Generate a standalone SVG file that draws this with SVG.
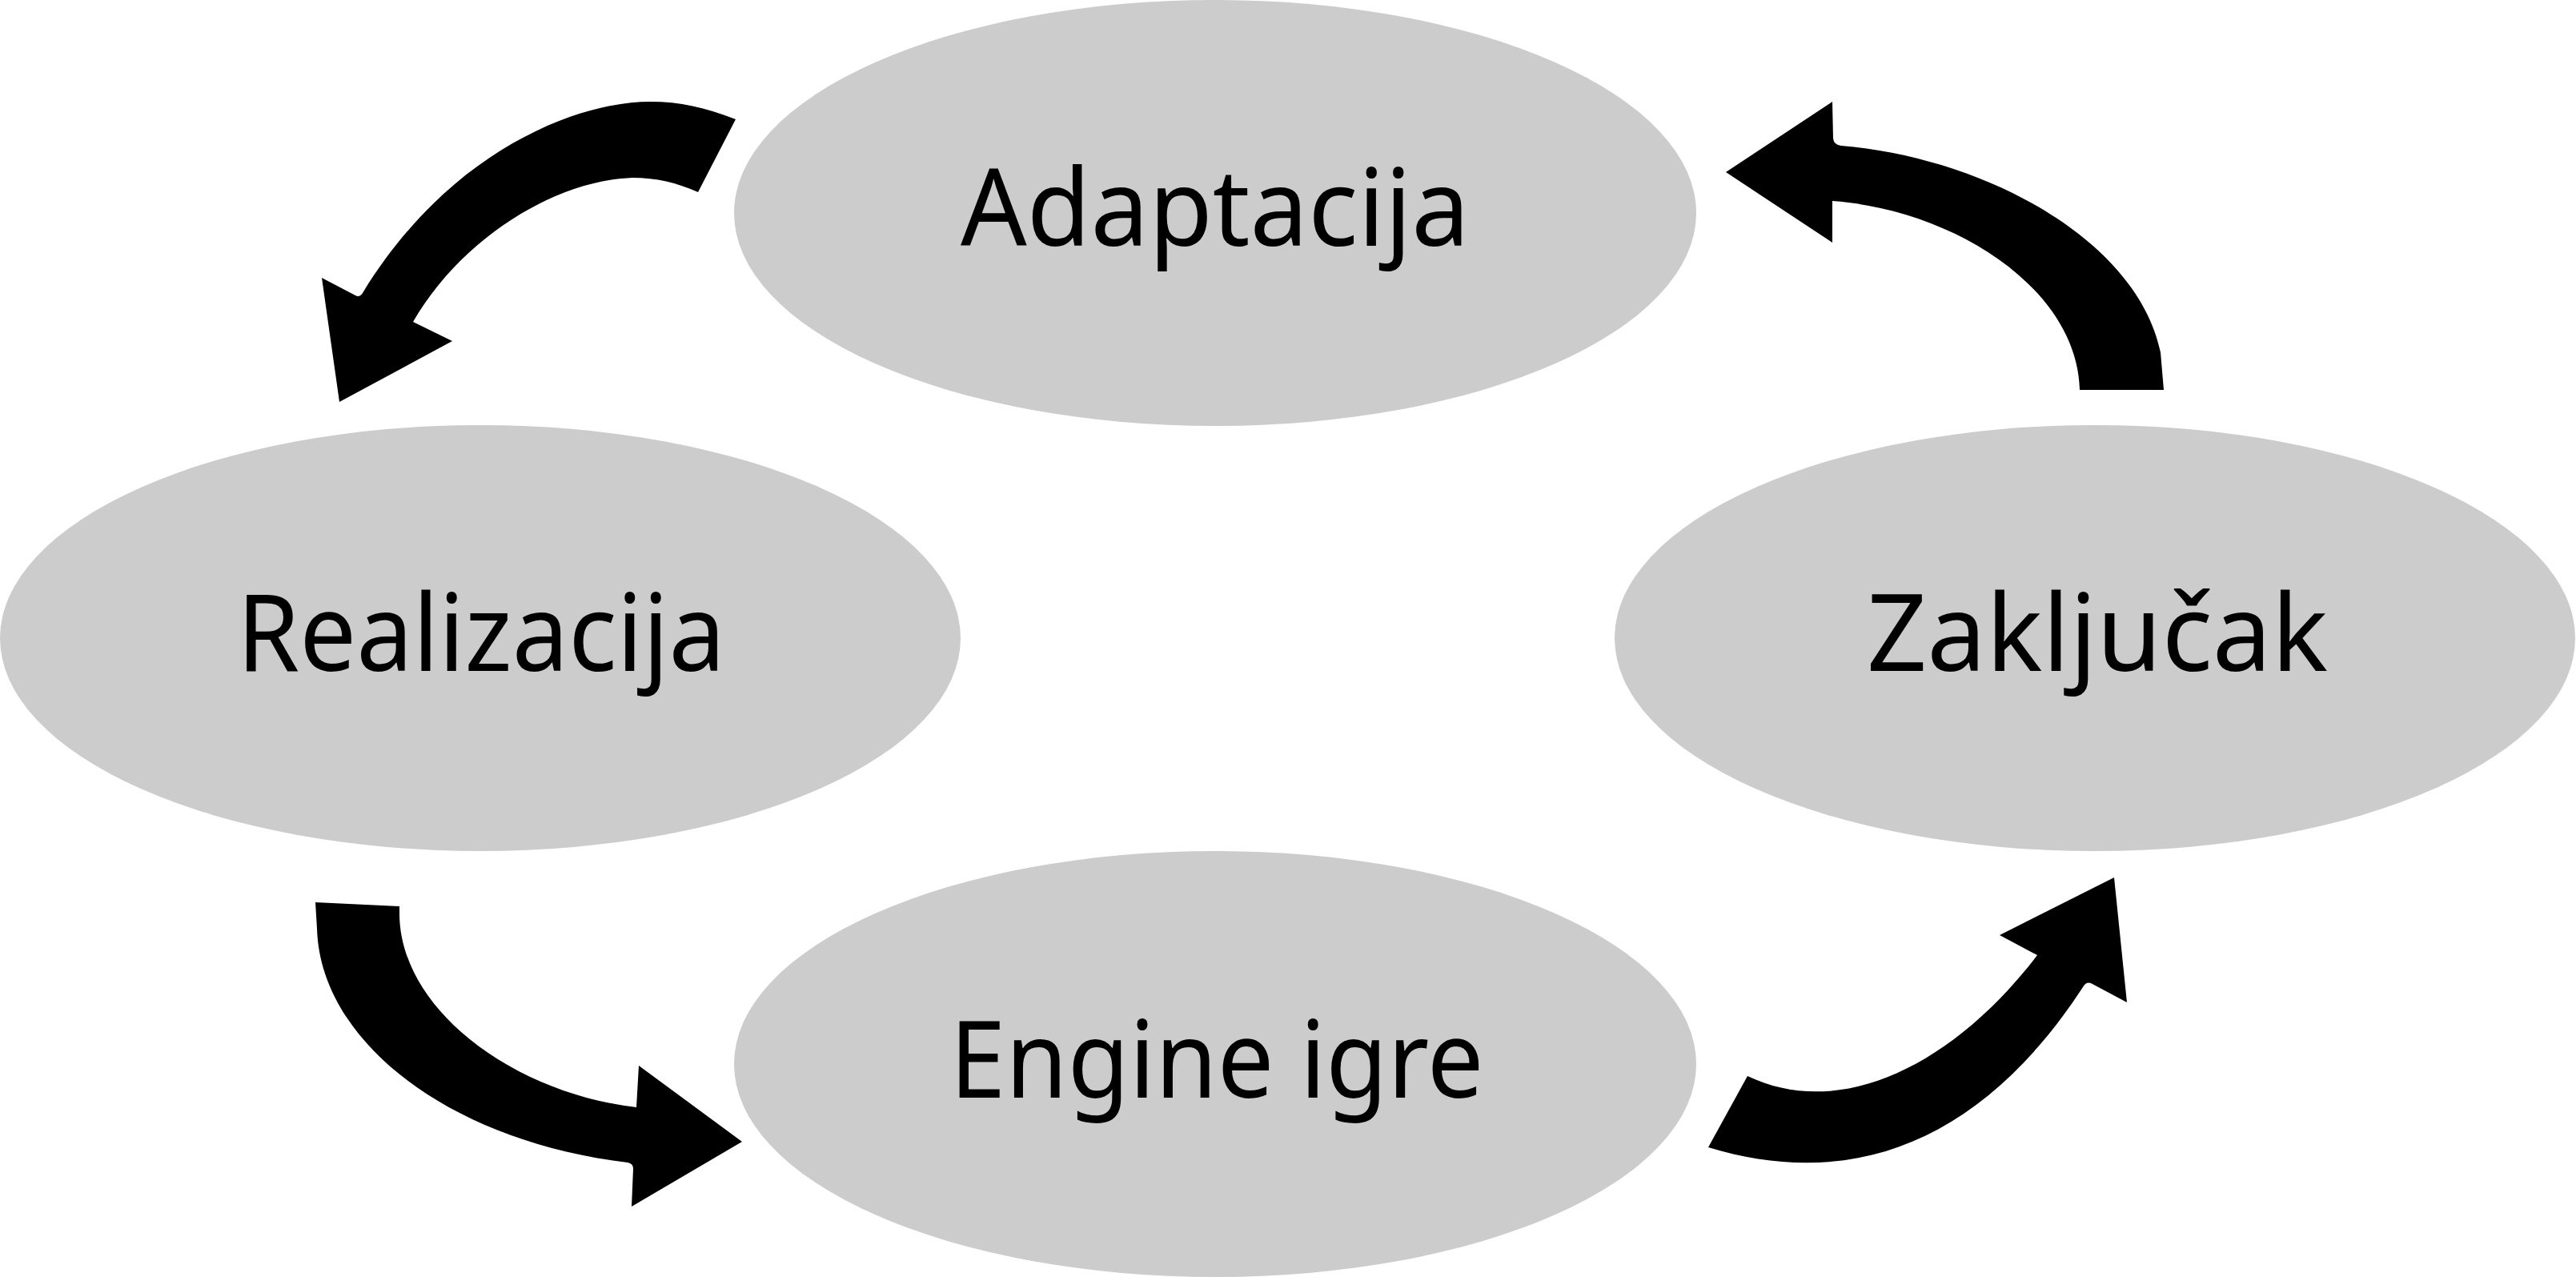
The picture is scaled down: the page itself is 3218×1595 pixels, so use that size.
<svg xmlns="http://www.w3.org/2000/svg" width="3218" height="1595" viewBox="0 0 3218 1595">
<style>
.node ellipse{fill:#cccccc;}
.node text{font-family:"Noto Sans","Open Sans","Liberation Sans",sans-serif;font-size:134px;fill:#000000;text-anchor:middle;}
.arrow{fill:#000000;stroke:none;}
</style>
<rect width="3218" height="1595" fill="#ffffff"/>
<g id="node-adaptacija" class="node">
<ellipse cx="1518" cy="266" rx="601" ry="266"/>
<text x="1518" y="307" textLength="636" lengthAdjust="spacingAndGlyphs">Adaptacija</text>
</g>
<g id="node-realizacija" class="node">
<ellipse cx="600" cy="797" rx="600" ry="266"/>
<text x="601" y="838" textLength="610" lengthAdjust="spacingAndGlyphs">Realizacija</text>
</g>
<g id="node-zakljucak" class="node">
<ellipse cx="2617" cy="797" rx="600" ry="266"/>
<text x="2620" y="838" textLength="576" lengthAdjust="spacingAndGlyphs">Zaključak</text>
</g>
<g id="node-engine" class="node">
<ellipse cx="1518" cy="1329" rx="601" ry="266"/>
<text x="1520" y="1371" textLength="667" lengthAdjust="spacingAndGlyphs">Engine igre</text>
</g>
<g id="connectors">
<path class="arrow" d="M 919 149 C 880 134, 850 127, 812 127 C 720 127, 560 190, 453 366 Q 449 372, 444 369 L 402 347 L 424 502 L 565 426 L 516 402 C 575 300, 690 226, 790 222 C 820 222, 845 228, 872 240 Z"/>
<path class="arrow" d="M 2156 215 L 2289 127 L 2290 173 Q 2291 181, 2300 182 C 2480 197, 2670 300, 2699 440 L 2703 487 L 2598 487 C 2595 360, 2440 262, 2289 251 L 2289 303 Z"/>
<path class="arrow" d="M 394 1127 L 499 1132 L 499 1142 C 500 1260, 640 1365, 795 1383 L 798 1331 L 927 1426 L 789 1507 L 791 1460 Q 791 1453, 784 1452 C 560 1425, 400 1300, 396 1160 Z"/>
<path class="arrow" d="M 2134 1433 L 2183 1344 C 2300 1400, 2440 1330, 2545 1193 L 2498 1168 L 2641 1096 L 2657 1252 L 2612 1228 Q 2606 1226, 2602 1233 C 2480 1420, 2320 1490, 2134 1433 Z"/>
</g>
</svg>
